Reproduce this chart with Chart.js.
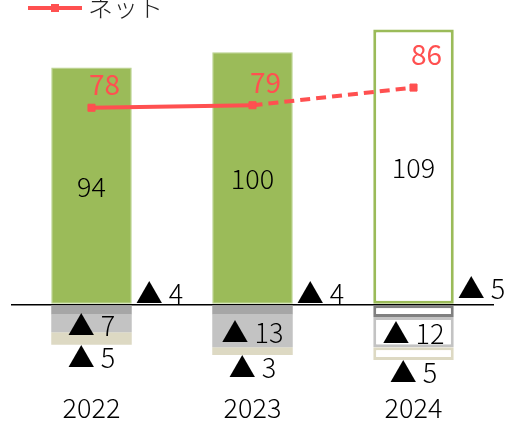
<!DOCTYPE html>
<html>
<head>
<meta charset="utf-8">
<script src="https://cdn.jsdelivr.net/npm/chart.js@4/dist/chart.umd.min.js"></script>
<style>
  html, body { margin: 0; padding: 0; background: #fff; }
  #wrap { width: 508px; height: 423px; }
</style>
</head>
<body>
<div id="wrap"><canvas id="chart" width="508" height="423"></canvas></div>
<script>
const years = ['2022', '2023', '2024'];
const gross = [94, 100, 109];
const cutA = [-4, -4, -5];
const cutB = [-7, -13, -12];
const cutC = [-5, -3, -5];
const net = [78, 79, 86];
const netLabel = 'ネット';

const FONT = '"Noto Sans CJK JP", "Noto Sans", sans-serif';
const RED = '#ff5050';
const forecast = i => i === 2;

// value labels, legend
const labelsPlugin = {
  id: 'labels',
  afterDatasetsDraw(chart) {
    const ctx = chart.ctx;
    const zeroY = chart.scales.y.getPixelForValue(0);
    ctx.save();
    ctx.font = '300 27px ' + FONT;
    chart.data.datasets.forEach((ds, di) => {
      const meta = chart.getDatasetMeta(di);
      meta.data.forEach((el, i) => {
        const v = ds.data[i];
        if (ds.kind === 'net') {
          ctx.fillStyle = RED;
          ctx.font = '28px ' + FONT;
          ctx.textAlign = 'center';
          ctx.textBaseline = 'middle';
          ctx.fillText(v, el.x + 13, el.y - (i === 2 ? 33 : 23));
          ctx.font = '300 27px ' + FONT;
          return;
        }
        ctx.fillStyle = '#000';
        const txt = v < 0 ? '▲ ' + Math.abs(v) : String(v);
        if (ds.kind === 'gross') {
          ctx.textAlign = 'center';
          ctx.textBaseline = 'middle';
          ctx.fillText(txt, el.x, (el.y + el.base) / 2 + 1);
        } else if (ds.kind === 'a') {
          ctx.textAlign = 'left';
          ctx.textBaseline = 'bottom';
          ctx.fillText(txt, el.x + el.width / 2 + 4, zeroY + (i === 2 ? -2 : 3));
        } else if (ds.kind === 'b') {
          ctx.textAlign = 'center';
          ctx.textBaseline = 'middle';
          ctx.fillText(txt, el.x, (el.y + el.base) / 2 + 2);
        } else if (ds.kind === 'c') {
          ctx.textAlign = 'center';
          ctx.textBaseline = 'middle';
          ctx.fillText(txt, el.x, el.y + 13);
        }
      });
    });
    // legend
    ctx.strokeStyle = RED;
    ctx.lineWidth = 4;
    ctx.beginPath();
    ctx.moveTo(28, 8);
    ctx.lineTo(82, 8);
    ctx.stroke();
    ctx.fillStyle = RED;
    ctx.fillRect(51, 4, 8, 8);
    ctx.fillStyle = '#222';
    ctx.font = '300 25px ' + FONT;
    ctx.textAlign = 'left';
    ctx.textBaseline = 'middle';
    ctx.fillText(netLabel, 88, 7);
    ctx.restore();
  }
};

const barCommon = {
  type: 'bar',
  stack: 'bars',
  order: 2,
  barPercentage: 0.5,
  categoryPercentage: 1
};

new Chart(document.getElementById('chart'), {
  data: {
    labels: years,
    datasets: [
      {
        type: 'line',
        kind: 'net',
        label: netLabel,
        data: net,
        stack: 'net',
        order: 0,
        borderColor: RED,
        backgroundColor: RED,
        borderWidth: 4,
        pointStyle: 'rect',
        pointRadius: 5,
        pointBorderWidth: 1,
        segment: {
          borderDash: c => forecast(c.p1DataIndex) ? [10, 6] : undefined
        }
      },
      Object.assign({}, barCommon, {
        kind: 'gross',
        data: gross,
        backgroundColor: years.map((y, i) => forecast(i) ? '#ffffff' : '#9bbb59'),
        borderColor: years.map((y, i) => forecast(i) ? '#9bbb59' : '#b7d18c'),
        borderWidth: years.map((y, i) => forecast(i) ? 3 : 1),
        borderSkipped: false
      }),
      Object.assign({}, barCommon, {
        kind: 'a',
        data: cutA,
        backgroundColor: years.map((y, i) => forecast(i) ? '#ffffff' : '#a6a6a6'),
        borderColor: years.map((y, i) => forecast(i) ? '#808080' : '#a6a6a6'),
        borderWidth: years.map((y, i) => forecast(i) ? 3 : 0),
        borderSkipped: false
      }),
      Object.assign({}, barCommon, {
        kind: 'b',
        data: cutB,
        backgroundColor: years.map((y, i) => forecast(i) ? '#ffffff' : '#c3c3c3'),
        borderColor: '#c3c3c3',
        borderWidth: years.map((y, i) => forecast(i) ? 3 : 0),
        borderSkipped: false
      }),
      Object.assign({}, barCommon, {
        kind: 'c',
        data: cutC,
        backgroundColor: years.map((y, i) => forecast(i) ? '#ffffff' : '#ddd9c3'),
        borderColor: '#ddd9c3',
        borderWidth: years.map((y, i) => forecast(i) ? 3 : 0),
        borderSkipped: false
      })
    ]
  },
  options: {
    responsive: false,
    animation: false,
    layout: { padding: { top: 22, left: 11, right: 14, bottom: 0 } },
    plugins: {
      legend: { display: false },
      tooltip: { enabled: false }
    },
    scales: {
      x: {
        stacked: true,
        grid: { display: false },
        border: { display: false },
        afterFit: s => { s.height = 58; },
        ticks: {
          color: '#000',
          font: { family: FONT, size: 27, weight: 300 },
          padding: 19
        }
      },
      y: {
        stacked: true,
        min: -24,
        max: 112,
        border: { display: false },
        ticks: { display: false },
        grid: {
          drawTicks: false,
          lineWidth: 1.5,
          color: c => c.tick && c.tick.value === 0 ? '#000' : 'transparent'
        }
      }
    }
  },
  plugins: [labelsPlugin]
});
</script>
</body>
</html>
